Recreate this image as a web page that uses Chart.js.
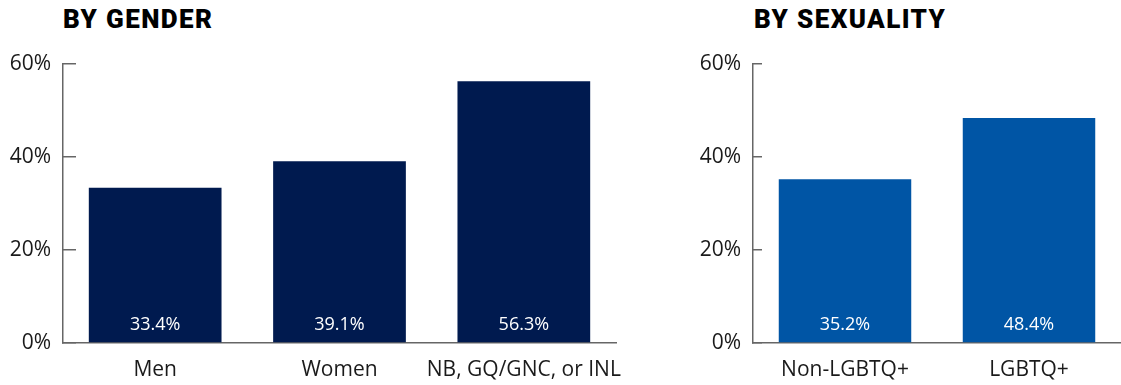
<!DOCTYPE html>
<html>
<head>
<meta charset="utf-8">
<script src="https://cdn.jsdelivr.net/npm/chart.js@4"></script>
<style>
  body { margin: 0; background: #fff; width: 1121px; height: 385px; position: relative; overflow: hidden; }
  .title { position: absolute; top: 4px; font-family: Roboto, sans-serif; font-weight: 900; font-size: 26px; color: #000; letter-spacing: 1.4px; }
  .box { position: absolute; top: 0; height: 385px; }
</style>
</head>
<body>
<div class="title" style="left:63px">BY GENDER</div>
<div class="title" style="left:754px">BY SEXUALITY</div>
<div class="box" style="left:0; width:660px"><canvas id="genderChart"></canvas></div>
<div class="box" style="left:690px; width:431px"><canvas id="sexualityChart"></canvas></div>
<script>
const genderLabels = ["Men", "Women", "NB, GQ/GNC, or INL"];
const genderValues = [33.4, 39.1, 56.3];
const sexualityLabels = ["Non-LGBTQ+", "LGBTQ+"];
const sexualityValues = [35.2, 48.4];
const yMax = 60;
const yStep = 20;

const FONT = "'Open Sans', sans-serif";

// white value labels near the bottom of each bar
const valueLabels = {
    id: "valueLabels",
    afterDatasetsDraw(chart) {
        const ctx = chart.ctx;
        const meta = chart.getDatasetMeta(0);
        const data = chart.data.datasets[0].data;
        ctx.save();
        ctx.fillStyle = "#fff";
        ctx.font = "18px " + FONT;
        ctx.textAlign = "center";
        ctx.textBaseline = "middle";
        meta.data.forEach((bar, i) => {
            ctx.fillText(data[i].toFixed(1) + "%", bar.x, chart.scales.y.bottom - 18);
        });
        ctx.restore();
    }
};

function makeChart(canvasId, labels, values, color, tickLen, padRight) {
    const ctx = document.getElementById(canvasId).getContext("2d");
    return new Chart(ctx, {
        type: "bar",
        data: {
            labels,
            datasets: [{ data: values, backgroundColor: color, barPercentage: 0.72, categoryPercentage: 1 }]
        },
        options: {
            responsive: false,
            animation: false,
            maintainAspectRatio: false,
            layout: { padding: { top: 64, right: padRight, left: 0, bottom: 0 } },
            plugins: { legend: { display: false }, tooltip: { enabled: false } },
            scales: {
                x: {
                    grid: { display: false, drawTicks: false },
                    border: { display: true, color: "#666", width: 1.5 },
                    ticks: { color: "#1a1a1a", font: { family: FONT, size: 21 }, padding: 14, maxRotation: 0, autoSkip: false },
                    afterFit: s => { s.height = 42; }
                },
                y: {
                    min: 0,
                    max: yMax,
                    grid: { drawOnChartArea: false, drawTicks: true, tickLength: -tickLen, color: "#666", lineWidth: 1.5 },
                    border: { display: true, color: "#666", width: 1.5 },
                    ticks: {
                        stepSize: yStep,
                        color: "#1a1a1a",
                        font: { family: FONT, size: 21 },
                        padding: tickLen + 12,
                        callback: v => v + "%"
                    },
                    afterFit: s => { s.width = 63; }
                }
            }
        },
        plugins: [valueLabels]
    });
}

function sizeCanvas(id, w, h) {
    const c = document.getElementById(id);
    c.width = w; c.height = h;
    c.style.width = w + "px"; c.style.height = h + "px";
}

sizeCanvas("genderChart", 660, 385);
sizeCanvas("sexualityChart", 431, 385);
makeChart("genderChart", genderLabels, genderValues, "#001a4f", 13, 44);
makeChart("sexualityChart", sexualityLabels, sexualityValues, "#0055a5", 9, 0);
</script>
</body>
</html>
